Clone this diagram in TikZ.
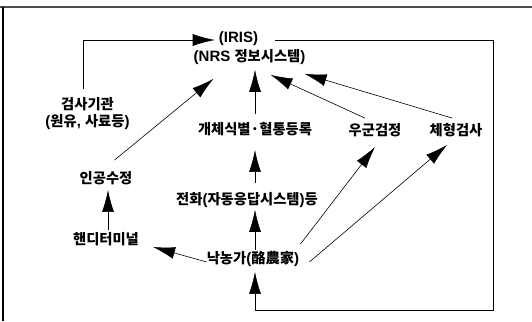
\documentclass[tikz,border=0pt]{standalone}
\usepackage{fontspec}
\setmainfont{Liberation Sans}
\newfontfamily\kr{Noto Sans CJK KR}
\newcommand\K[1]{{\kr\bfseries\fontsize{14.3}{17}\selectfont #1}}
\usetikzlibrary{arrows.meta,calc}
\begin{document}
\begin{tikzpicture}[x=1pt,y=-1pt,
  lbl/.style={font=\bfseries\fontsize{15}{17}\selectfont, inner sep=0pt, align=center},
  arr/.style={-{Latex[length=22pt,width=12pt]}, line width=0.6pt}]
\useasboundingbox (0,0) rectangle (532,321);
\draw[gray!60!black, line width=1.3pt] (0,7) -- (532,7);
\draw[line width=1.3pt] (3,7) -- (3,321);
\node[lbl] (iris) at (238.5,39) {(IRIS)};
\node[lbl] (nrs) at (249.5,57) {(NRS \K{정보시스템})};
\node[lbl] (lab) at (87.5,113.5) {\K{검사기관}\\(\K{원유}, \K{사료등})};
\node[lbl] (ind) at (255,129) {\K{개체식별·혈통등록}};
\node[lbl] (herd) at (375,130) {\K{우군검정}};
\node[lbl] (type) at (456,130) {\K{체형검사}};
\node[lbl] (ai) at (106,178) {\K{인공수정}};
\node[lbl] (phone) at (247,200) {\K{전화}(\K{자동응답시스템})\K{등}};
\node[lbl] (handy) at (106,239) {\K{핸디터미널}};
\node[lbl] (farm) at (253,259) {\K{낙농가}(\K{酪農家})};
\coordinate (r1) at (493,40);
\coordinate (r2) at (493,310);
\coordinate (r3) at (255,310);
% left loop
\draw[arr] ($(lab.north)+(-4.5,-8)$) |- ($(iris.west)+(-4,1)$);
% right loop
\draw[arr] ($(iris.east)+(17,1)$) -- (r1) -- (r2) -- (r3) -- ($(r3|-farm.south)+(0,5)$);
% upward arrows
\draw[arr] ($(ind.north)+(0,-8)$) -- ($(ind.north|-nrs.south)+(0,5)$);
\draw[arr] ($(ind.south|-phone.north)+(0,-9)$) -- ($(ind.south)+(0,14)$);
\draw[arr] ($(farm.north)+(2,-1)$) -- ($(farm.north|-phone.south)+(2,2)$);
\draw[arr] ($(handy.north)+(2,-2)$) -- ($(ai.south)+(2,5)$);
\draw[arr] ($(ai.north east)+(-18,-11)$) -- ($(nrs.south west)+(20,14)$);
\draw[arr] ($(herd.north)+(-10,-5)$) -- ($(nrs.south east)+(-35,10)$);
\draw[arr] ($(type.north)+(-4,-5)$) -- ($(nrs.south east)+(-1,9)$);
\draw[arr] ($(farm.north east)+(1,-7)$) -- ($(herd.south)+(0,10)$);
\draw[arr] ($(farm.east)+(10,3)$) -- ($(type.south)+(-9,8)$);
\draw[arr] ($(farm.west)+(0,3)$) -- ($(handy.east)+(14,8)$);
\end{tikzpicture}
\end{document}
